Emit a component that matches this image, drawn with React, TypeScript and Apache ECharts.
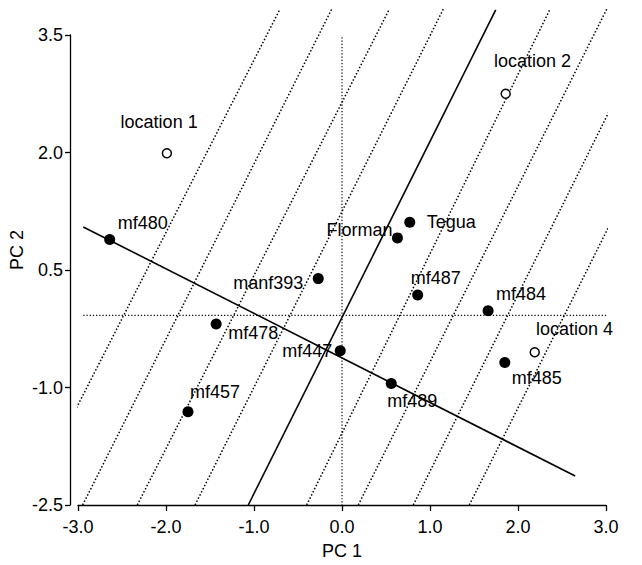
import React, { useEffect, useRef } from "react";
import * as echarts from "echarts";

// Genotypes (filled dots)
const genotypes = ["mf480", "Florman", "Tegua", "manf393", "mf487", "mf484", "mf478", "mf447", "mf489", "mf485", "mf457"];
const genoPC1 = [-2.64, 0.63, 0.77, -0.27, 0.86, 1.66, -1.43, -0.02, 0.56, 1.85, -1.75];
const genoPC2 = [0.89, 0.91, 1.11, 0.39, 0.18, -0.02, -0.19, -0.53, -0.95, -0.68, -1.31];

// Locations (open circles)
const locations = ["location 1", "location 2", "location 4"];
const locPC1 = [-1.99, 1.86, 2.19];
const locPC2 = [1.99, 2.75, -0.55];

// Axis ticks
const xTicks = [-3, -2, -1, 0, 1, 2, 3];
const yTicks = [-2.5, -1.0, 0.5, 2.0, 3.5];

// Solid lines (endpoints in data units)
const mainAxisA = [[-2.94, 1.05], [2.65, -2.13]];
const mainAxisB = [[-1.065, -2.5], [1.747, 3.82]];

// Dotted parallel lines
const isoLines = [
  [[-3.09, -1.42], [-0.705, 3.83]],
  [[-2.947, -2.5], [-0.117, 3.83]],
  [[-2.326, -2.5], [0.538, 3.83]],
  [[-1.67, -2.5], [1.151, 3.83]],
  [[-0.401, -2.5], [2.364, 3.83]],
  [[0.185, -2.5], [3.008, 3.83]],
  [[0.81, -2.5], [3.614, 3.83]],
  [[1.447, -2.5], [4.27, 3.83]],
];

// Dotted reference axes
const vRef = [[0, 3.47], [0, -2.5]];
const hRef = [[-2.94, -0.08], [3.16, -0.08]];

// Label placement (offset from point centre, px)
const labelPlace: Record<string, [string, number, number]> = {
  mf480: ["left", 8, -16],
  "location 1": ["center", -7, -31],
  "location 2": ["left", -11, -32],
  Florman: ["right", -5, -8],
  Tegua: ["left", 17, 0],
  manf393: ["right", -15, 4],
  mf487: ["left", -7, -17],
  mf484: ["left", 8, -17],
  "location 4": ["left", 2, -23],
  mf485: ["left", 7, 16],
  mf447: ["right", -8, 0],
  mf489: ["left", -4, 17],
  mf457: ["left", 2, -20],
  mf478: ["left", 12, 9],
};

const FONT = "'Liberation Sans', Arial, sans-serif";
const INK = "#000";

function makeLabel(name: string, size: number) {
  const p = labelPlace[name] || ["left", 8, 0];
  const h = size / 2;
  return {
    show: true,
    formatter: name,
    position: [p[1] + h, p[2] + h],
    align: p[0],
    verticalAlign: "middle",
    fontSize: 18,
    fontFamily: FONT,
    color: INK,
    opacity: 1,
  };
}

export default function App() {
  const ref = useRef<HTMLDivElement>(null);
  useEffect(() => {
    if (!ref.current) return;
    const chart = echarts.init(ref.current, undefined, { renderer: "svg" });
    const lineSeries = (pts: number[][], type: any, width: number) => ({
      type: "line",
      data: pts,
      symbol: "none",
      clip: false,
      silent: true,
      z: 1,
      lineStyle: { color: INK, width, type, opacity: 1 },
    });
    const genoSize = 11;
    const locSize = 9;
    chart.setOption({
      animation: false,
      backgroundColor: "#fff",
      grid: { left: 78, right: 36, top: 35, bottom: 57 },
      xAxis: {
        type: "value",
        min: xTicks[0],
        max: xTicks[xTicks.length - 1],
        interval: 1,
        name: "PC 1",
        nameLocation: "middle",
        nameGap: 37,
        nameTextStyle: { fontSize: 18, fontFamily: FONT, color: INK },
        axisLine: { onZero: false, lineStyle: { color: INK, width: 1.3 } },
        axisTick: { show: true, length: 6, inside: false, lineStyle: { color: INK, width: 1.3 } },
        axisLabel: { fontSize: 18, fontFamily: FONT, color: INK, margin: 13, formatter: (v: number) => v.toFixed(1) },
        splitLine: { show: false },
      },
      yAxis: {
        type: "value",
        min: yTicks[0],
        max: yTicks[yTicks.length - 1],
        interval: 1.5,
        offset: 8,
        axisLine: { show: true, onZero: false, lineStyle: { color: INK, width: 1.3 } },
        axisTick: { show: true, length: 5, lineStyle: { color: INK, width: 1.3 } },
        axisLabel: { fontSize: 18, fontFamily: FONT, color: INK, margin: 7, formatter: (v: number) => v.toFixed(1) },
        splitLine: { show: false },
      },
      graphic: [
        {
          type: "text",
          x: 17,
          y: 250,
          rotation: Math.PI / 2,
          style: {
            text: "PC 2",
            fontSize: 18,
            fontFamily: FONT,
            fill: INK,
            align: "center",
            verticalAlign: "middle",
          },
        },
      ],
      series: [
        ...isoLines.map((l) => lineSeries(l, [1.5, 2], 1.5)),
        lineSeries(vRef, [1.2, 2], 1.2),
        lineSeries(hRef, [1.2, 2], 1.2),
        lineSeries(mainAxisA, "solid", 1.6),
        lineSeries(mainAxisB, "solid", 1.6),
        {
          type: "scatter",
          z: 5,
          symbol: "circle",
          symbolSize: genoSize,
          itemStyle: { color: INK, opacity: 1 },
          data: genotypes.map((n, i) => ({
            name: n,
            value: [genoPC1[i], genoPC2[i]],
            label: makeLabel(n, genoSize),
          })),
        },
        {
          type: "scatter",
          z: 5,
          symbol: "circle",
          symbolSize: locSize,
          itemStyle: { color: "#fff", borderColor: INK, borderWidth: 1.5, opacity: 1 },
          data: locations.map((n, i) => ({
            name: n,
            value: [locPC1[i], locPC2[i]],
            label: makeLabel(n, locSize),
          })),
        },
      ],
    });
    return () => chart.dispose();
  }, []);
  return <div ref={ref} style={{ position: "absolute", left: 0, top: 0, width: 642, height: 565 }} />;
}
